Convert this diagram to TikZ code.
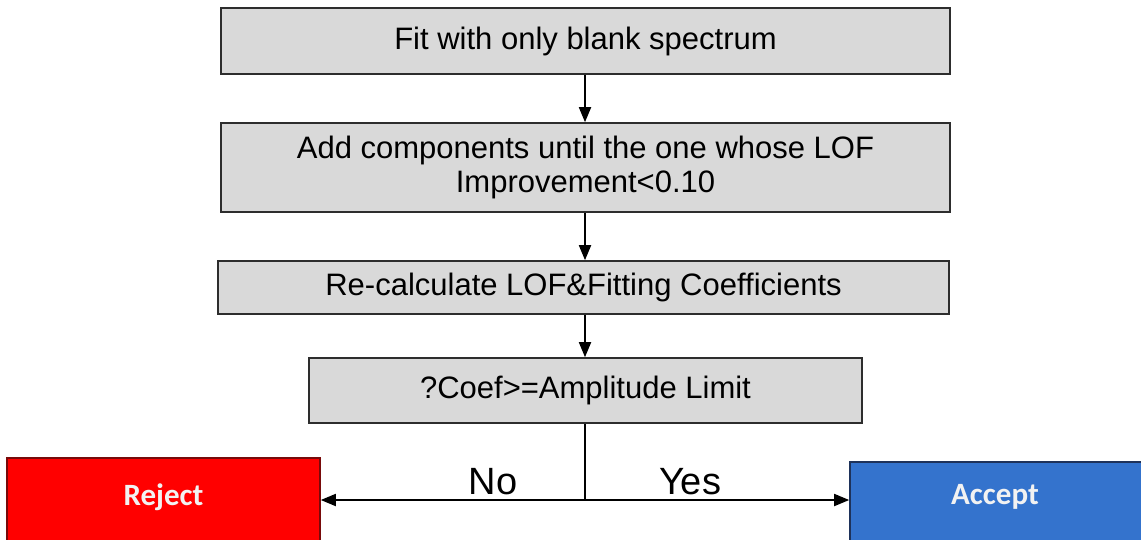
\documentclass[tikz,border=0pt]{standalone}
\usepackage{fontspec}
\setmainfont{Liberation Sans}
\newfontfamily\verdictfont{Carlito}
\usetikzlibrary{arrows.meta}

\definecolor{boxgrey}{RGB}{217,217,217}
\definecolor{boxline}{RGB}{45,45,45}
\definecolor{rejectred}{RGB}{255,0,0}
\definecolor{rejectline}{RGB}{120,10,10}
\definecolor{acceptblue}{RGB}{52,115,205}
\definecolor{acceptline}{RGB}{30,50,90}
\definecolor{verdicttext}{RGB}{242,242,242}

\tikzset{
  procbox/.style={draw=boxline, fill=boxgrey, line width=1.6pt, rectangle,
    inner sep=0pt, align=center, font=\fontsize{31}{34}\selectfont},
  verdictbox/.style={rectangle, line width=1.6pt, inner sep=0pt,
    minimum width=313pt, minimum height=90pt},
  verdict/.style={text=verdicttext, font=\verdictfont\bfseries\fontsize{31}{33}\selectfont},
  branch/.style={font=\fontsize{38}{40}\selectfont, anchor=base},
  flow/.style={draw=black, line width=1.8pt,
    -{Triangle[length=15pt,width=12pt]}},
  plain/.style={draw=black, line width=1.8pt}
}

\begin{document}
\begin{tikzpicture}[x=1pt, y=-1pt]
  % page area
  \clip (0,0) rectangle (1141,539);
  \fill[white] (0,0) rectangle (1141,539);

  % process steps
  \node[procbox, minimum width=729pt, minimum height=66pt] (fit) at (585.5,41)
    {Fit with only blank spectrum};
  \node[procbox, minimum width=729pt, minimum height=89pt] (add) at (585.5,167.5)
    {Add components until the one whose LOF\\Improvement<0.10};
  \node[procbox, minimum width=731pt, minimum height=53pt] (recalc) at (583.5,287.5)
    {Re-calculate LOF\&Fitting Coefficients};
  \node[procbox, minimum width=553pt, minimum height=65pt] (check) at (585.5,390.5)
    {?Coef>=Amplitude Limit};

  % outcomes
  \node[verdictbox, draw=rejectline, fill=rejectred] (reject) at (163.5,503) {};
  \node[verdict] (rejecttext) at (163.5,497) {Reject};
  \node[verdictbox, draw=acceptline, fill=acceptblue, minimum width=300pt] (accept) at (1000,507) {};
  \node[verdict] (accepttext) at (995,497) {Accept};

  % connectors
  \draw[flow] (fit.south -| 585,0) -- (add.north -| 585,0);
  \draw[flow] (add.south -| 585,0) -- (recalc.north -| 585,0);
  \draw[flow] (recalc.south -| 585,0) -- (check.north -| 585,0);

  \coordinate (split) at (585,500);
  \draw[plain] (check.south -| split) -- (split);
  \draw[flow] (split) -- (reject.east |- split);
  \draw[flow] (split) -- (accept.west |- split);

  % branch labels
  \node[branch] (no) at (493,494) {No};
  \node[branch] (yes) at (690,494) {Yes};
\end{tikzpicture}
\end{document}
